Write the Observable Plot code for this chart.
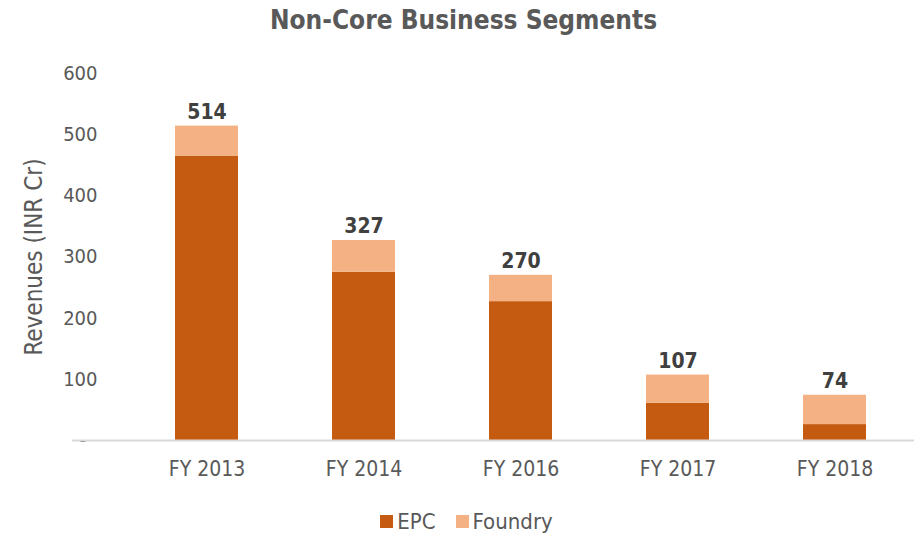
<!DOCTYPE html>
<html>
<head>
<meta charset="utf-8">
<script src="https://cdn.jsdelivr.net/npm/d3@7"></script>
<script src="https://cdn.jsdelivr.net/npm/@observablehq/plot@0.6"></script>
<style>
  body { margin: 0; background: #fff; font-family: "DejaVu Sans Condensed", "DejaVu Sans", sans-serif; font-stretch: condensed; }
  #wrap { width: 921px; height: 540px; position: relative; }
  #title { height: 40px; line-height: 40px; text-align: center; font-size: 26px; font-weight: bold; color: #595959; padding-left: 6px; }
  #legend { position: absolute; top: 509px; left: 0; width: 921px; display: flex; justify-content: center; gap: 20px; font-size: 22px; color: #595959; padding-left: 6px; }
  .item { display: flex; align-items: center; gap: 4px; }
  .sw { width: 13px; height: 13px; display: inline-block; }
</style>
</head>
<body>
<div id="wrap">
  <div id="title">Non-Core Business Segments</div>
  <div id="chart"></div>
  <div id="legend"></div>
</div>
<script>
const years = ["FY 2013", "FY 2014", "FY 2016", "FY 2017", "FY 2018"];
const epc = [465, 275, 227, 61, 26];
const foundry = [49, 52, 43, 46, 48];
const totals = [514, 327, 270, 107, 74];
const series = ["EPC", "Foundry"];
const colors = ["#C55A11", "#F4B183"];
const yTicks = [0, 100, 200, 300, 400, 500, 600];

const rows = [];
years.forEach((y, i) => {
  rows.push({year: y, segment: "EPC", value: epc[i]});
  rows.push({year: y, segment: "Foundry", value: foundry[i]});
});
const totalRows = years.map((y, i) => ({year: y, total: totals[i]}));

const chart = Plot.plot({
  width: 921,
  height: 455,
  marginTop: 33,
  marginBottom: 55,
  marginLeft: 126,
  marginRight: 7,
  style: {fontFamily: "'DejaVu Sans Condensed', 'DejaVu Sans', sans-serif", fontStretch: "condensed", fontSize: "20px", color: "#595959", background: "transparent"},
  x: {domain: years, paddingInner: 0.6, paddingOuter: 0.3, label: null},
  y: {domain: [0, 600], ticks: yTicks, label: "Revenues (INR Cr)"},
  color: {domain: series, range: colors},
  marks: [
    Plot.axisY({ticks: yTicks, tickSize: 0, tickPadding: 29, tickFormat: d => d === 0 ? "-\u00a0\u00a0" : d, fontSize: 20, fill: "#595959", label: null}),
    Plot.axisY({ticks: [], tickSize: 0, fontSize: 24, fill: "#595959",
      label: "Revenues (INR Cr)", labelAnchor: "center", labelArrow: "none", labelOffset: 102}),
    Plot.axisX({tickSize: 0, tickPadding: 21, fontSize: 21, fill: "#595959", label: null}),
    Plot.barY(rows, Plot.stackY({x: "year", y: "value", fill: "segment", order: series})),
    Plot.ruleY([0], {stroke: "#d9d9d9", strokeWidth: 2, insetLeft: -54}),
    Plot.text(totalRows, {x: "year", y: "total", text: d => String(d.total), dy: -14, fontSize: 21, fontWeight: "bold", fill: "#404040"})
  ]
});
document.getElementById("chart").appendChild(chart);

const leg = document.getElementById("legend");
series.forEach((s, i) => {
  const it = document.createElement("div");
  it.className = "item";
  it.innerHTML = `<span class="sw" style="background:${colors[i]}"></span><span>${s}</span>`;
  leg.appendChild(it);
});
</script>
</body>
</html>
